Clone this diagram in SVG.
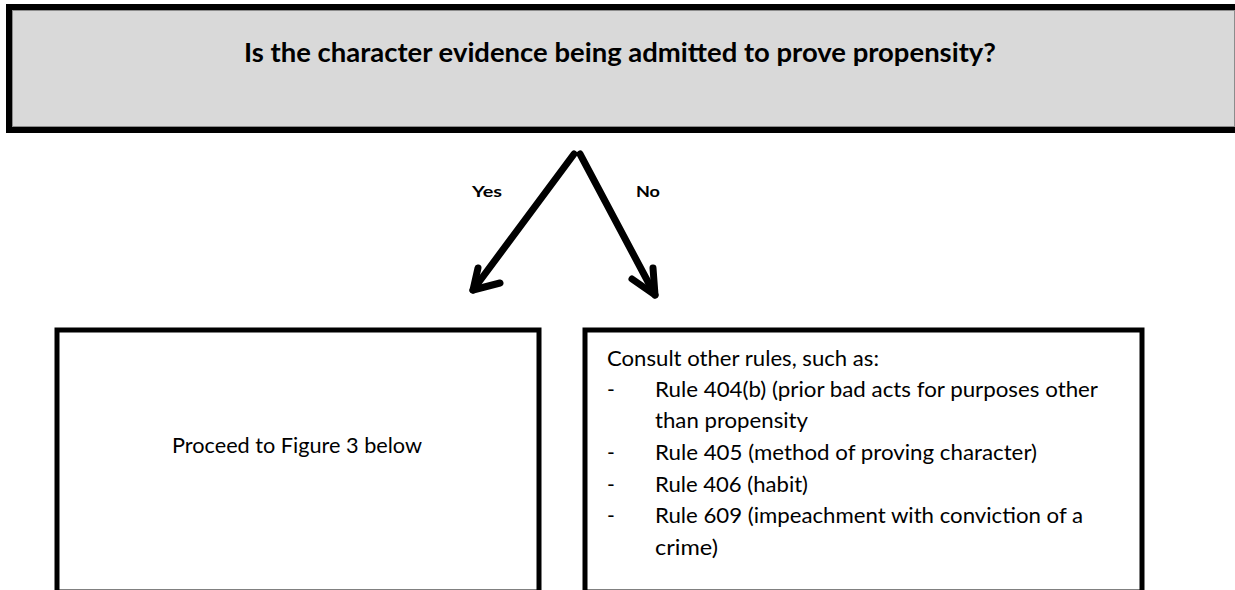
<svg xmlns="http://www.w3.org/2000/svg" width="1235" height="590" viewBox="0 0 1235 590">
<style>
.box{fill:#ffffff;stroke:#000000;stroke-width:5}
.q{fill:#d9d9d9;stroke:#000000;stroke-width:6}
.inner{fill:none;stroke:#8c8c8c;stroke-width:1}
.t{font-family:Lato,"Open Sans","Liberation Sans",sans-serif;font-size:21px;fill:#000000}
.b{font-family:Lato,"Open Sans","Liberation Sans",sans-serif;font-weight:bold;fill:#000000}
.arr{fill:none;stroke:#000000;stroke-width:7;stroke-linecap:round;stroke-linejoin:round}
</style>
<rect width="1235" height="590" fill="#ffffff"/>
<g id="question">
<rect class="q" x="9" y="7" width="1228" height="123"/>
<rect class="inner" x="12.5" y="10.5" width="1222" height="116"/>
<text class="b" x="244" y="62" font-size="27" textLength="752" lengthAdjust="spacingAndGlyphs">Is the character evidence being admitted to prove propensity?</text>
</g>
<g id="connectors">
<polyline class="arr" points="574,154 473,290"/>
<polyline class="arr" points="478,268 473,290 500,283"/>
<polyline class="arr" points="580,154 655,295"/>
<polyline class="arr" points="653,268 655,295 632,279"/>
<text class="b" x="472" y="197" font-size="16" textLength="30" lengthAdjust="spacingAndGlyphs">Yes</text>
<text class="b" x="636" y="197" font-size="16" textLength="24" lengthAdjust="spacingAndGlyphs">No</text>
</g>
<g id="yes-box">
<rect class="box" x="57" y="330" width="482" height="262"/>
<text class="t" x="172" y="453" textLength="250" lengthAdjust="spacingAndGlyphs">Proceed to Figure 3 below</text>
</g>
<g id="no-box">
<rect class="box" x="585" y="330" width="557" height="262"/>
<text class="t" x="607" y="366" textLength="272" lengthAdjust="spacingAndGlyphs">Consult other rules, such as:</text>
<text class="t" x="607" y="397">-</text>
<text class="t" x="655" y="397" textLength="443" lengthAdjust="spacingAndGlyphs">Rule 404(b) (prior bad acts for purposes other</text>
<text class="t" x="655" y="428" textLength="153" lengthAdjust="spacingAndGlyphs">than propensity</text>
<text class="t" x="607" y="460">-</text>
<text class="t" x="655" y="460" textLength="382" lengthAdjust="spacingAndGlyphs">Rule 405 (method of proving character)</text>
<text class="t" x="607" y="492">-</text>
<text class="t" x="655" y="492" textLength="153" lengthAdjust="spacingAndGlyphs">Rule 406 (habit)</text>
<text class="t" x="607" y="523">-</text>
<text class="t" x="655" y="523" textLength="428" lengthAdjust="spacingAndGlyphs">Rule 609 (impeachment with conviction of a</text>
<text class="t" x="655" y="555" textLength="63" lengthAdjust="spacingAndGlyphs">crime)</text>
</g>
</svg>
